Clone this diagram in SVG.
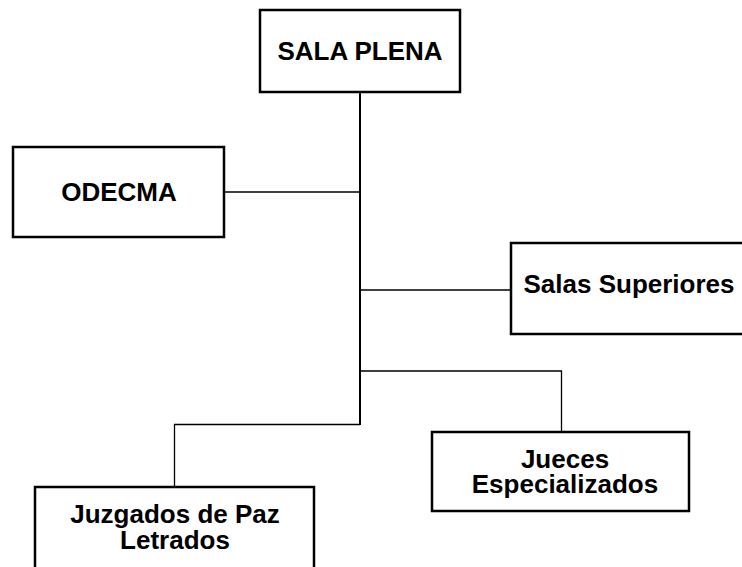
<svg xmlns="http://www.w3.org/2000/svg" width="742" height="567" viewBox="0 0 742 567">
<style>
.box{fill:#fff;stroke:#000;stroke-width:2.5}
.t{font-family:"Liberation Sans",Arial,sans-serif;font-weight:bold;font-size:26px;fill:#000;text-anchor:middle}
.c{fill:none;stroke:#000;stroke-width:1.3}
.v{fill:none;stroke:#000;stroke-width:2}
</style>
<rect width="742" height="567" fill="#fff"/>
<g id="connectors">
<line class="v" x1="360" y1="92" x2="360" y2="425"/>
<line class="c" x1="224" y1="192" x2="360" y2="192"/>
<line class="c" x1="360" y1="290" x2="511" y2="290"/>
<polyline class="c" points="360,371 561.5,371 561.5,432"/>
<polyline class="c" points="360,424.5 174.5,424.5 174.5,487"/>
</g>
<g id="sala-plena">
<rect class="box" x="260" y="10" width="200" height="82"/>
<text class="t" x="360" y="60">SALA PLENA</text>
</g>
<g id="odecma">
<rect class="box" x="13" y="147" width="211" height="90"/>
<text class="t" x="119" y="201">ODECMA</text>
</g>
<g id="salas-superiores">
<rect class="box" x="511" y="243" width="240" height="91"/>
<text class="t" x="629" y="293">Salas Superiores</text>
</g>
<g id="jueces">
<rect class="box" x="432" y="432" width="257" height="79"/>
<text class="t" x="565" y="468">Jueces</text>
<text class="t" x="565" y="493">Especializados</text>
</g>
<g id="juzgados">
<rect class="box" x="35" y="487" width="279" height="100"/>
<text class="t" x="175" y="523">Juzgados de Paz</text>
<text class="t" x="175" y="549">Letrados</text>
</g>
</svg>
